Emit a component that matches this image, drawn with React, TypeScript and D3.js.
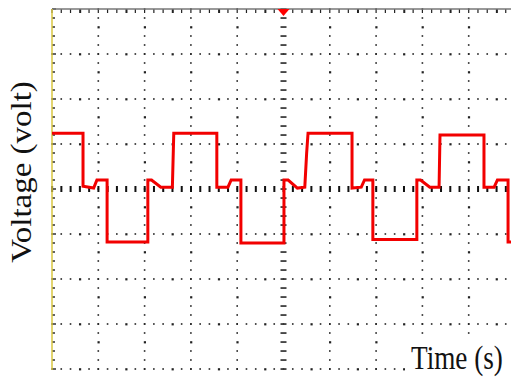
import React from "react";
import * as d3 from "d3";

// waveform: time in divisions, voltage in divisions
const times = [0, 0.67, 0.67, 0.9, 0.97, 1.19, 1.19, 2.07, 2.07, 2.15, 2.35, 2.6, 2.63, 3.56, 3.56, 3.8, 3.87, 4.08, 4.08, 5.01, 5.01, 5.1, 5.3, 5.46, 5.5, 5.53, 6.48, 6.48, 6.68, 6.75, 6.93, 6.93, 7.88, 7.88, 7.96, 8.16, 8.36, 8.38, 9.33, 9.33, 9.55, 9.62, 9.85, 9.85, 10];
const volts = [1.24, 1.24, 0.06, 0.02, 0.2, 0.2, -1.18, -1.18, 0.2, 0.2, 0.04, 0.04, 1.24, 1.24, 0.04, 0.04, 0.2, 0.2, -1.2, -1.2, 0.2, 0.2, 0.02, 0.04, 0.8, 1.24, 1.24, 0.02, 0.04, 0.2, 0.2, -1.12, -1.12, 0.2, 0.2, 0.04, 0.04, 1.2, 1.2, 0.04, 0.04, 0.2, 0.2, -1.18, -1.18];
const xDivs = d3.range(0, 11);
const yDivs = d3.range(-4, 5);
const yLabel = "Voltage (volt)";
const xLabel = "Time (s)";

const W = 511;
const H = 378;
const left = 52;
const top = 9;
const divW = 46.3;
const divH = 45;

export default function App() {
  const x = d3.scaleLinear().domain([0, 10]).range([left, left + 10 * divW]);
  const y = d3.scaleLinear().domain([-4, 4]).range([top + 8 * divH, top]);
  const minorX = d3.range(0, 50.01, 1).map((i) => i / 5);
  const minorY = d3.range(-20, 20.01, 1).map((i) => i / 5);
  const line = d3
    .line<number>()
    .x((_, i) => x(times[i]))
    .y((_, i) => y(volts[i]))
    .curve(d3.curveLinear);

  const dots: React.ReactElement[] = [];
  // horizontal dotted grid lines
  yDivs.forEach((v) => {
    if (v === 4 || v === 0) return;
    minorX.forEach((t, j) => {
      const big = j % 5 === 3;
      dots.push(
        <rect key={`h${v}_${j}`} x={x(t) - 0.8} y={y(v) - 0.8} width={big ? 2.2 : 1.6} height={big ? 2.2 : 1.6} fill="#222" />
      );
    });
  });
  // vertical dotted grid lines
  xDivs.forEach((t) => {
    if (t === 0 || t === 5) return;
    minorY.forEach((v, j) => {
      const big = j % 5 === 3;
      dots.push(
        <rect key={`v${t}_${j}`} x={x(t) - 0.8} y={y(v) - 0.8} width={big ? 2.2 : 1.6} height={big ? 2.2 : 1.6} fill="#222" />
      );
    });
  });

  return (
    <svg width={W} height={H} style={{ position: "absolute", left: 0, top: 0, background: "#fff" }}>
      <rect width={W} height={H} fill="#fff" />
      <g>{dots}</g>
      {/* center horizontal axis ticks */}
      {minorX.map((t, j) => (
        <rect key={`ch${j}`} x={x(t) - 0.9} y={y(0) - 3} width={2} height={6} fill="#111" />
      ))}
      {/* center vertical axis ticks */}
      {minorY.map((v, j) => (
        <rect key={`cv${j}`} x={x(5) - 3} y={y(v) - 0.8} width={6} height={1.7} fill="#333" />
      ))}
      {/* top border ticks */}
      {minorX.map((t, j) => (
        <rect key={`tt${j}`} x={x(t) - 0.6} y={top} width={j % 5 === 3 ? 2 : 1.2} height={4} fill="#222" />
      ))}
      {/* left border ticks */}
      {minorY.map((v, j) => (
        <rect key={`lt${j}`} x={left} y={y(v) - 0.7} width={j % 5 === 0 ? 4 : 3} height={1.4} fill="#222" />
      ))}
      <line x1={left} x2={W} y1={top} y2={top} stroke="#777" strokeWidth={1.5} />
      <line x1={left} x2={left} y1={top} y2={y(-4) + 1} stroke="#d8c640" strokeWidth={1.5} />
      {/* trigger marker */}
      <path
        d={`M${x(5) - 6},${top} L${x(5) + 6},${top} L${x(5)},${top + 7} Z`}
        fill="#f00"
      />
      <path d={line(times) || ""} fill="none" stroke="#f20000" strokeWidth={3} strokeLinejoin="miter" />
      {/* x label with white box */}
      <rect x={405} y={336} width={W - 405} height={H - 336} fill="#fff" />
      <text
        transform={`translate(411,369) scale(0.8,1)`}
        fontFamily="'Liberation Serif', 'Times New Roman', serif"
        fontSize={34}
        fill="#111"
      >
        {xLabel}
      </text>
      <text
        transform={`translate(31,172) rotate(-90) scale(1,0.9)`}
        textAnchor="middle"
        fontFamily="'Liberation Serif', 'Times New Roman', serif"
        fontSize={33}
        fill="#111"
      >
        {yLabel}
      </text>
    </svg>
  );
}
